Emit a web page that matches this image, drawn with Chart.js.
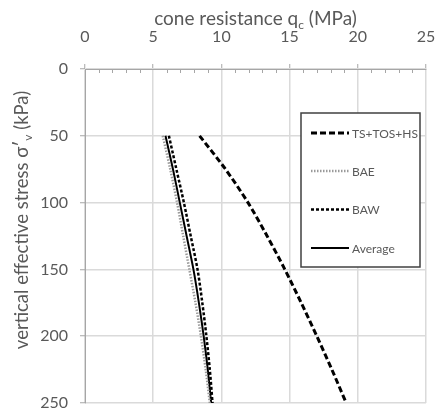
<!DOCTYPE html>
<html>
<head>
<meta charset="utf-8">
<script src="https://cdn.jsdelivr.net/npm/chart.js@4.4.1/dist/chart.umd.min.js"></script>
<style>
  html, body { margin: 0; padding: 0; background: #fff; }
  #wrap { width: 438px; height: 414px; }
</style>
</head>
<body>
<div id="wrap"><canvas id="chart" width="438" height="414"></canvas></div>
<script>
// vertical effective stress (kPa) and cone resistance qc (MPa)
const stress  = [50, 75, 100, 125, 150, 175, 200, 225, 250];
const qcTS    = [8.4, 10.3, 11.95, 13.35, 14.65, 15.85, 17.0, 18.1, 19.15];
const qcBAE   = [5.7, 6.25, 6.75, 7.2, 7.65, 8.1, 8.5, 8.85, 9.15];
const qcBAW   = [6.15, 6.7, 7.25, 7.75, 8.25, 8.6, 8.9, 9.15, 9.35];
const qcAvg   = [5.9, 6.45, 6.95, 7.45, 7.95, 8.35, 8.7, 9.0, 9.25];
const seriesNames = ['TS+TOS+HS', 'BAE', 'BAW', 'Average'];
const xRange = [0, 25], xStep = 5;
const yRange = [0, 250], yStep = 50;

const FONT = 'Lato, "Open Sans", sans-serif';
const TXT = '#595959';
const GRID = '#dadada';
const AXIS = '#a6a6a6';

const pts = xs => xs.map((x, i) => ({ x, y: stress[i] }));

const styles = [
  { color: '#000', width: 3, dash: [6, 3] },
  { color: '#9a9a9a', width: 2.5, dash: [1.5, 1.5] },
  { color: '#000', width: 2.5, dash: [3, 2] },
  { color: '#000', width: 2, dash: [] }
];
const values = [qcTS, qcBAE, qcBAW, qcAvg];

const datasets = values.map((v, i) => ({
  label: seriesNames[i],
  data: pts(v),
  showLine: true,
  borderColor: styles[i].color,
  borderWidth: styles[i].width,
  borderDash: styles[i].dash,
  pointRadius: 0,
  tension: 0.3,
  fill: false
}));

// draw a run of text pieces, some of them as subscripts
function drawPieces(ctx, pieces, x, y) {
  let w = 0;
  pieces.forEach(p => { ctx.font = p.size + 'px ' + FONT; w += ctx.measureText(p.t).width; });
  let cx = x - w / 2;
  pieces.forEach(p => {
    ctx.font = p.size + 'px ' + FONT;
    ctx.fillText(p.t, cx, y + (p.dy || 0));
    cx += ctx.measureText(p.t).width;
  });
}

function fixBox(scale, key, size) {
  scale[key] = size;
  scale.paddingLeft = scale.paddingRight = scale.paddingTop = scale.paddingBottom = 0;
}

const extras = {
  id: 'extras',
  afterDraw(chart) {
    const ctx = chart.ctx;
    const xs = chart.scales.x, area = chart.chartArea;
    ctx.save();

    // minor ticks on the top axis
    ctx.strokeStyle = AXIS;
    ctx.lineWidth = 1;
    for (let v = xRange[0] + 1; v < xRange[1]; v++) {
      if (v % xStep === 0) continue;
      const px = Math.round(xs.getPixelForValue(v)) + 0.5;
      ctx.beginPath();
      ctx.moveTo(px, area.top);
      ctx.lineTo(px, area.top + 4);
      ctx.stroke();
    }

    // axis titles
    ctx.fillStyle = TXT;
    ctx.textBaseline = 'alphabetic';
    ctx.textAlign = 'left';
    drawPieces(ctx, [
      { t: 'cone resistance q', size: 19 },
      { t: 'c', size: 12, dy: 4 },
      { t: ' (MPa)', size: 19 }
    ], (area.left + area.right) / 2, 25);

    ctx.save();
    ctx.translate(28, 220);
    ctx.rotate(-Math.PI / 2);
    drawPieces(ctx, [
      { t: 'vertical effective stress \u03c3\u2032', size: 18.5 },
      { t: 'v', size: 12, dy: 4 },
      { t: ' (kPa)', size: 18.5 }
    ], 0, 0);
    ctx.restore();

    // legend box
    const bx = 301, by = 113, bw = 119, bh = 154;
    ctx.fillStyle = '#fff';
    ctx.fillRect(bx, by, bw, bh);
    ctx.strokeStyle = '#404040';
    ctx.lineWidth = 1.5;
    ctx.strokeRect(bx, by, bw, bh);
    const rows = [133, 171, 209.5, 248];
    chart.data.datasets.forEach((ds, i) => {
      const ry = rows[i];
      ctx.strokeStyle = ds.borderColor;
      ctx.lineWidth = ds.borderWidth;
      ctx.setLineDash(ds.borderDash);
      ctx.beginPath();
      ctx.moveTo(311, ry);
      ctx.lineTo(349, ry);
      ctx.stroke();
      ctx.setLineDash([]);
      ctx.fillStyle = TXT;
      ctx.font = '12px ' + FONT;
      ctx.textBaseline = 'middle';
      ctx.fillText(ds.label, 352, ry + 1);
    });
    ctx.restore();
  }
};

new Chart(document.getElementById('chart').getContext('2d'), {
  type: 'scatter',
  data: { datasets },
  options: {
    responsive: false,
    animation: false,
    devicePixelRatio: 1,
    layout: { autoPadding: false, padding: { left: 0, top: 0, right: 12, bottom: 11 } },
    plugins: { legend: { display: false }, tooltip: { enabled: false } },
    scales: {
      x: {
        type: 'linear',
        position: 'top',
        min: xRange[0], max: xRange[1],
        ticks: { stepSize: xStep, color: TXT, font: { family: FONT, size: 16 }, padding: 18 },
        grid: { color: GRID, lineWidth: 1.5, tickColor: AXIS, tickLength: 5, tickWidth: 1 },
        border: { color: AXIS, width: 1 },
        afterFit(scale) { fixBox(scale, 'height', 69); }
      },
      y: {
        type: 'linear',
        reverse: true,
        min: yRange[0], max: yRange[1],
        ticks: { stepSize: yStep, color: TXT, font: { family: FONT, size: 16 }, padding: 12 },
        grid: { color: GRID, lineWidth: 1.5, tickColor: AXIS, tickLength: 5, tickWidth: 1 },
        border: { color: AXIS, width: 1 },
        afterFit(scale) { fixBox(scale, 'width', 85); }
      }
    }
  },
  plugins: [extras]
});
</script>
</body>
</html>
